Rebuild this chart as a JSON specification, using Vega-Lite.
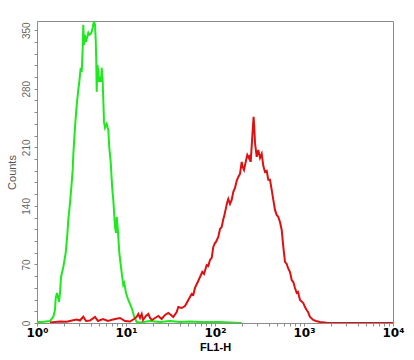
{
  "$schema": "https://vega.github.io/schema/vega-lite/v6.json",
  "width": 356,
  "height": 302,
  "autosize": {"type": "none"},
  "padding": {"left": 37, "top": 21, "right": 21, "bottom": 37},
  "background": "white",
  "config": {
    "view": {"stroke": "#8c8c8c", "strokeWidth": 1},
    "font": "Liberation Sans"
  },
  "datasets": {
    "green": [
      {"fl": 1.000, "count": 1.2}, {"fl": 1.138, "count": 1.2}, {"fl": 1.262, "count": 1.8}, {"fl": 1.400, "count": 2.4},
      {"fl": 1.525, "count": 7.5}, {"fl": 1.593, "count": 15.6}, {"fl": 1.623, "count": 29.9}, {"fl": 1.678, "count": 35.9},
      {"fl": 1.767, "count": 25.1}, {"fl": 1.813, "count": 35.9}, {"fl": 1.861, "count": 55.0}, {"fl": 1.975, "count": 67.0},
      {"fl": 2.101, "count": 83.7}, {"fl": 2.190, "count": 105.3}, {"fl": 2.247, "count": 123.2}, {"fl": 2.349, "count": 143.5},
      {"fl": 2.454, "count": 167.5}, {"fl": 2.518, "count": 183.0}, {"fl": 2.558, "count": 201.0}, {"fl": 2.625, "count": 221.3},
      {"fl": 2.721, "count": 245.2}, {"fl": 2.815, "count": 264.4}, {"fl": 2.911, "count": 278.7}, {"fl": 2.988, "count": 288.3},
      {"fl": 3.042, "count": 296.7}, {"fl": 3.097, "count": 305.0}, {"fl": 3.178, "count": 300.2}, {"fl": 3.262, "count": 328.9},
      {"fl": 3.313, "count": 356.5}, {"fl": 3.374, "count": 332.5}, {"fl": 3.462, "count": 344.5}, {"fl": 3.553, "count": 336.1},
      {"fl": 3.675, "count": 342.1}, {"fl": 3.771, "count": 346.9}, {"fl": 3.871, "count": 344.5}, {"fl": 4.013, "count": 345.7},
      {"fl": 4.118, "count": 348.1}, {"fl": 4.226, "count": 352.9}, {"fl": 4.292, "count": 357.7}, {"fl": 4.393, "count": 359.5},
      {"fl": 4.485, "count": 356.5}, {"fl": 4.567, "count": 338.5}, {"fl": 4.626, "count": 317.0}, {"fl": 4.687, "count": 276.3},
      {"fl": 4.760, "count": 308.6}, {"fl": 4.885, "count": 302.6}, {"fl": 4.974, "count": 288.3}, {"fl": 5.105, "count": 294.3},
      {"fl": 5.239, "count": 288.3}, {"fl": 5.333, "count": 305.0}, {"fl": 5.473, "count": 288.3}, {"fl": 5.559, "count": 266.7},
      {"fl": 5.660, "count": 240.4}, {"fl": 5.808, "count": 233.3}, {"fl": 6.069, "count": 238.0}, {"fl": 6.229, "count": 233.3},
      {"fl": 6.326, "count": 230.9}, {"fl": 6.492, "count": 209.3}, {"fl": 6.732, "count": 192.6}, {"fl": 6.909, "count": 171.1},
      {"fl": 7.053, "count": 156.7}, {"fl": 7.201, "count": 147.1}, {"fl": 7.522, "count": 114.8}, {"fl": 7.720, "count": 107.7},
      {"fl": 7.862, "count": 126.8}, {"fl": 8.069, "count": 113.6}, {"fl": 8.411, "count": 83.7}, {"fl": 8.949, "count": 59.8},
      {"fl": 9.326, "count": 45.5}, {"fl": 9.571, "count": 47.8}, {"fl": 10.00, "count": 35.9}, {"fl": 10.61, "count": 27.5},
      {"fl": 11.59, "count": 17.9}, {"fl": 12.40, "count": 7.2}, {"fl": 13.19, "count": 1.2}, {"fl": 14.37, "count": 0.6},
      {"fl": 18.61, "count": 2.4}, {"fl": 24.10, "count": 1.2}, {"fl": 31.22, "count": 2.4}, {"fl": 40.44, "count": 1.2},
      {"fl": 52.38, "count": 1.8}, {"fl": 67.84, "count": 1.2}, {"fl": 87.87, "count": 1.2}, {"fl": 113.8, "count": 1.2},
      {"fl": 147.4, "count": 0.6}, {"fl": 200, "count": 0}
    ],
    "red": [
      {"fl": 1.400, "count": 0.6}, {"fl": 1.813, "count": 1.8}, {"fl": 2.157, "count": 1.6}, {"fl": 2.474, "count": 3.0},
      {"fl": 2.793, "count": 4.2}, {"fl": 3.042, "count": 3.0}, {"fl": 3.313, "count": 7.5}, {"fl": 3.553, "count": 2.4},
      {"fl": 3.940, "count": 3.0}, {"fl": 4.485, "count": 7.2}, {"fl": 4.846, "count": 2.4}, {"fl": 5.515, "count": 4.8},
      {"fl": 6.278, "count": 2.4}, {"fl": 7.144, "count": 4.2}, {"fl": 8.563, "count": 6.0}, {"fl": 9.745, "count": 2.4},
      {"fl": 11.09, "count": 1.8}, {"fl": 12.30, "count": 4.8}, {"fl": 13.19, "count": 7.5}, {"fl": 13.75, "count": 10.8},
      {"fl": 14.37, "count": 6.0}, {"fl": 15.01, "count": 10.8}, {"fl": 15.53, "count": 3.6}, {"fl": 16.78, "count": 8.4},
      {"fl": 17.81, "count": 10.8}, {"fl": 18.61, "count": 6.0}, {"fl": 19.60, "count": 3.6}, {"fl": 21.18, "count": 6.0},
      {"fl": 23.07, "count": 8.4}, {"fl": 25.18, "count": 4.8}, {"fl": 27.43, "count": 9.6}, {"fl": 29.88, "count": 12.0},
      {"fl": 32.03, "count": 9.6}, {"fl": 34.00, "count": 7.2}, {"fl": 37.13, "count": 13.2}, {"fl": 38.69, "count": 19.1},
      {"fl": 42.25, "count": 17.9}, {"fl": 46.03, "count": 20.3}, {"fl": 50.12, "count": 27.5}, {"fl": 54.72, "count": 34.7},
      {"fl": 57.04, "count": 33.5}, {"fl": 59.61, "count": 41.9}, {"fl": 63.27, "count": 47.8}, {"fl": 67.84, "count": 55.0},
      {"fl": 72.01, "count": 61.0}, {"fl": 75.24, "count": 58.6}, {"fl": 80.66, "count": 69.4}, {"fl": 84.07, "count": 68.2},
      {"fl": 87.87, "count": 75.4}, {"fl": 91.82, "count": 77.8}, {"fl": 95.70, "count": 90.9}, {"fl": 100.0, "count": 95.7},
      {"fl": 102.6, "count": 96.9}, {"fl": 108.9, "count": 102.9}, {"fl": 113.8, "count": 112.4}, {"fl": 118.9, "count": 114.8},
      {"fl": 124.0, "count": 124.4}, {"fl": 126.2, "count": 126.8}, {"fl": 132.9, "count": 137.6}, {"fl": 137.5, "count": 144.7},
      {"fl": 141.1, "count": 148.3}, {"fl": 147.4, "count": 142.3}, {"fl": 154.0, "count": 147.1}, {"fl": 160.6, "count": 156.7},
      {"fl": 167.8, "count": 161.5}, {"fl": 175.3, "count": 169.9}, {"fl": 182.7, "count": 174.6}, {"fl": 190.9, "count": 178.2},
      {"fl": 199.5, "count": 192.6}, {"fl": 204.8, "count": 186.6}, {"fl": 211.8, "count": 183.0}, {"fl": 221.3, "count": 192.6},
      {"fl": 230.7, "count": 201.0}, {"fl": 242.9, "count": 196.2}, {"fl": 247.4, "count": 201.0}, {"fl": 251.9, "count": 192.6},
      {"fl": 258.5, "count": 211.7}, {"fl": 265.3, "count": 230.9}, {"fl": 271.5, "count": 246.4}, {"fl": 276.5, "count": 233.3},
      {"fl": 281.5, "count": 215.3}, {"fl": 294.2, "count": 198.6}, {"fl": 306.7, "count": 206.9}, {"fl": 320.4, "count": 197.4},
      {"fl": 334.8, "count": 202.2}, {"fl": 348.9, "count": 187.8}, {"fl": 364.6, "count": 180.6}, {"fl": 381.0, "count": 181.8},
      {"fl": 397.1, "count": 171.1}, {"fl": 415.0, "count": 171.1}, {"fl": 433.6, "count": 159.1}, {"fl": 452.0, "count": 147.1},
      {"fl": 472.3, "count": 135.2}, {"fl": 493.5, "count": 129.2}, {"fl": 514.3, "count": 126.8}, {"fl": 537.4, "count": 120.8},
      {"fl": 561.6, "count": 111.2}, {"fl": 585.4, "count": 90.9}, {"fl": 611.7, "count": 73.0}, {"fl": 639.2, "count": 70.6},
      {"fl": 661.1, "count": 65.8}, {"fl": 696.2, "count": 61.0}, {"fl": 727.5, "count": 51.4}, {"fl": 758.3, "count": 49.0},
      {"fl": 792.4, "count": 41.9}, {"fl": 827.9, "count": 35.9}, {"fl": 856.2, "count": 37.1}, {"fl": 902.0, "count": 27.5},
      {"fl": 982.0, "count": 23.9}, {"fl": 1026, "count": 19.1}, {"fl": 1072, "count": 15.6}, {"fl": 1109, "count": 13.2},
      {"fl": 1168, "count": 7.2}, {"fl": 1272, "count": 3.6}, {"fl": 1364, "count": 2.4}, {"fl": 1513, "count": 1.2},
      {"fl": 1799, "count": 0.2}, {"fl": 2538, "count": 0}, {"fl": 10000, "count": 0}
    ]
  },
  "encoding": {
    "x": {
      "field": "fl",
      "type": "quantitative",
      "scale": {"type": "log", "domain": [1, 10000], "nice": false},
      "axis": {
        "title": "FL1-H",
        "titleFont": "Liberation Sans",
        "titleFontSize": 11,
        "titleFontWeight": "bold",
        "titleColor": "#000000",
        "titleY": 18,
        "titleBaseline": "top",
        "values": [1,2,3,4,5,6,7,8,9,10,20,30,40,50,60,70,80,90,100,200,300,400,500,600,700,800,900,1000,2000,3000,4000,5000,6000,7000,8000,9000,10000],
        "labelExpr": "datum.value == 1 ? '10⁰' : datum.value == 10 ? '10¹' : datum.value == 100 ? '10²' : datum.value == 1000 ? '10³' : datum.value == 10000 ? '10⁴' : ''",
        "labelFont": "DejaVu Sans",
        "labelFontSize": 12,
        "labelFontWeight": "bold",
        "labelColor": "#000000",
        "labelFlush": false,
        "labelOverlap": false,
        "labelPadding": 1,
        "tickSize": 3,
        "tickColor": "#8c8c8c",
        "domainColor": "#8c8c8c",
        "grid": false
      }
    },
    "y": {
      "field": "count",
      "type": "quantitative",
      "scale": {"domain": [0, 361], "nice": false},
      "axis": {
        "title": "Counts",
        "titleFont": "Liberation Sans",
        "titleFontSize": 11,
        "titleFontWeight": "normal",
        "titleColor": "#555555",
        "titlePadding": 4,
        "values": [0,14,28,42,56,70,84,98,112,126,140,154,168,182,196,210,224,238,252,266,280,294,308,322,336,350],
        "labelExpr": "datum.value % 70 == 0 ? datum.label : ''",
        "labelAngle": -90,
        "labelAlign": "center",
        "labelBaseline": "bottom",
        "labelFont": "Liberation Sans",
        "labelFontSize": 10,
        "labelColor": "#666666",
        "labelPadding": 3,
        "tickSize": 3,
        "tickColor": "#8c8c8c",
        "domainColor": "#8c8c8c",
        "grid": false
      }
    }
  },
  "layer": [
    {
      "data": {"name": "green"},
      "mark": {"type": "line", "color": "#1ee81e", "strokeWidth": 2, "clip": true}
    },
    {
      "data": {"name": "red"},
      "mark": {"type": "line", "color": "#dd1111", "strokeWidth": 2, "clip": true}
    }
  ]
}
